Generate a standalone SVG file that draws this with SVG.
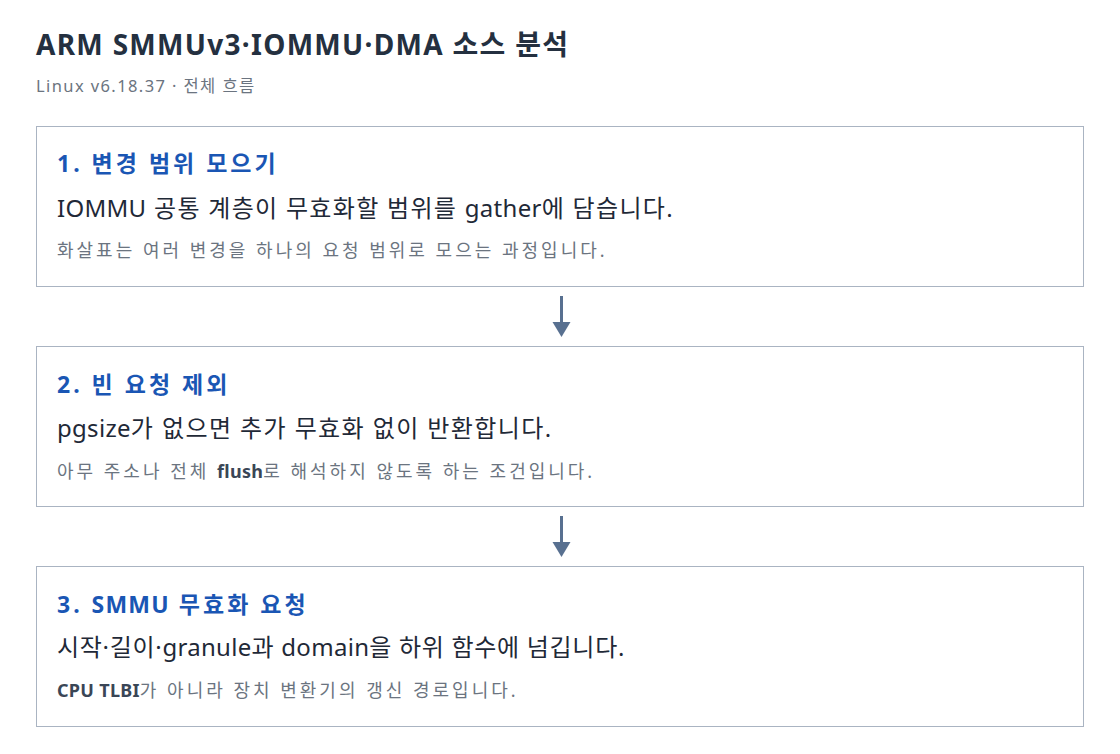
<svg xmlns="http://www.w3.org/2000/svg" width="1120" height="754" viewBox="0 0 1120 754">
<style>
text{font-family:"Noto Sans","Noto Sans CJK KR",sans-serif}
.title{font-size:28px;font-weight:700;fill:#243040;letter-spacing:1.3px}
.sub{font-size:16.5px;fill:#6b7480;letter-spacing:1.4px}
.box{fill:#ffffff;stroke:#aab4c2;stroke-width:1}
.h{font-size:23px;font-weight:700;fill:#1a56b4;letter-spacing:3px}
.m{font-size:24px;fill:#1f2937}
.n{font-size:18px;fill:#6b7480;letter-spacing:3px}
.b{font-weight:700;fill:#3a4656;letter-spacing:0.3px}
.lat{letter-spacing:0.3px}
.conn{stroke:#587090;stroke-width:3;fill:none}
.head{fill:#587090}
</style>
<rect width="1120" height="754" fill="#ffffff"/>
<text class="title" x="36" y="55">ARM SMMUv3·IOMMU·DMA 소스 분석</text>
<text class="sub" x="36" y="92">Linux v6.18.37 · 전체 흐름</text>
<g id="connectors">
<path class="conn" d="M561.5,296 L561.5,322"/>
<path class="head" d="M552.5,322 L570.5,322 L561.5,337 Z"/>
<path class="conn" d="M561.5,516 L561.5,542"/>
<path class="head" d="M552.5,542 L570.5,542 L561.5,557 Z"/>
</g>
<g id="node1">
<rect class="box" x="36.5" y="126.5" width="1047" height="160"/>
<text class="h" x="57" y="172">1. 변경 범위 모으기</text>
<text class="m" x="57" y="217" letter-spacing="1.3"><tspan class="lat">IOMMU</tspan> 공통 계층이 무효화할 범위를 <tspan class="lat">gather</tspan>에 담습니다.</text>
<text class="n" x="57" y="257" letter-spacing="3.1">화살표는 여러 변경을 하나의 요청 범위로 모으는 과정입니다.</text>
</g>
<g id="node2">
<rect class="box" x="36.5" y="346.5" width="1047" height="160"/>
<text class="h" x="57" y="393" letter-spacing="1.4">2. 빈 요청 제외</text>
<text class="m" x="57" y="437" letter-spacing="1.4"><tspan class="lat">pgsize</tspan>가 없으면 추가 무효화 없이 반환합니다.</text>
<text class="n" x="57" y="478" letter-spacing="2.9">아무 주소나 전체 <tspan class="b">flush</tspan>로 해석하지 않도록 하는 조건입니다.</text>
</g>
<g id="node3">
<rect class="box" x="36.5" y="566.5" width="1047" height="160"/>
<text class="h" x="57" y="613" letter-spacing="3.7">3. <tspan letter-spacing="1.2">SMMU</tspan> 무효화 요청</text>
<text class="m" x="57" y="656" letter-spacing="0.7">시작·길이·<tspan class="lat">granule</tspan>과 <tspan class="lat">domain</tspan>을 하위 함수에 넘깁니다.</text>
<text class="n" x="57" y="697" letter-spacing="3"><tspan class="b">CPU TLBI</tspan>가 아니라 장치 변환기의 갱신 경로입니다.</text>
</g>
</svg>
